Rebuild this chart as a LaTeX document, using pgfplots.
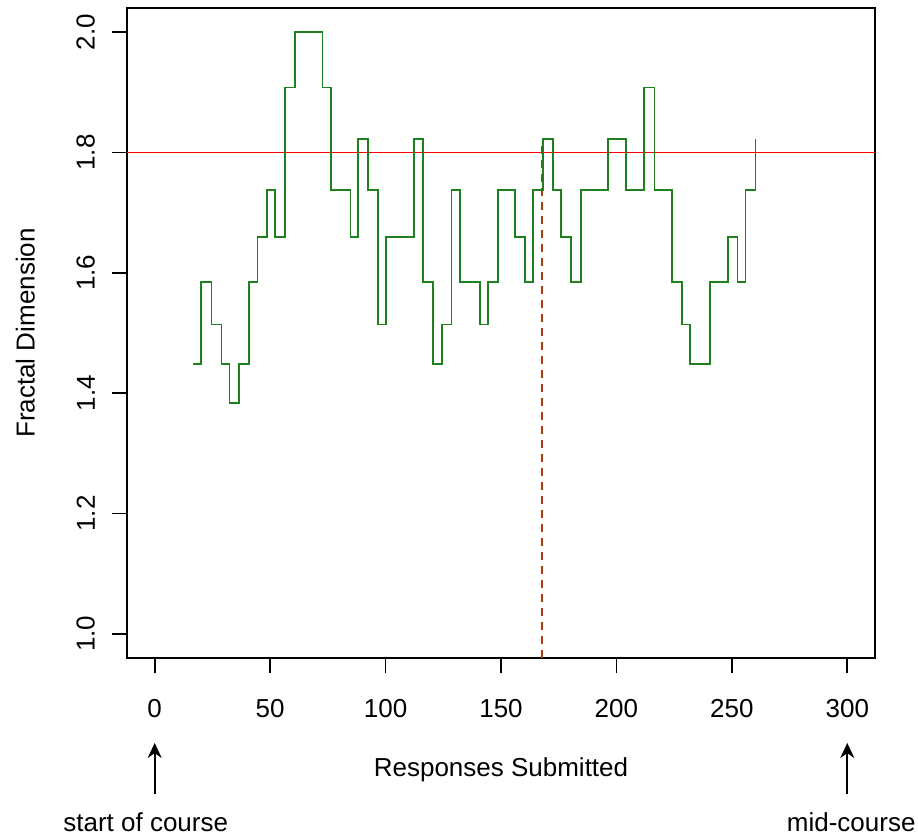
\documentclass[border=0pt]{standalone}
\usepackage{fontspec}
\setmainfont{Liberation Sans}
\usepackage{pgfplots}
\pgfplotsset{compat=1.18}
\usetikzlibrary{arrows.meta}
\definecolor{stepgreen}{RGB}{30,128,30}
\definecolor{dashbrown}{RGB}{170,60,20}
\begin{document}
\begin{tikzpicture}[font=\fontsize{13}{15}\selectfont]
\begin{axis}[
  at={(0,0)}, anchor=south west,
  scale only axis, width=374pt, height=325pt,
  xmin=-12, xmax=312, ymin=0.96, ymax=2.04,
  xtick={0,50,100,150,200,250,300},
  ytick={1,1.2,1.4,1.6,1.8,2},
  tick align=outside, tick pos=left,
  major tick length=7.5pt,
  axis line style={line width=0.8pt},
  every tick/.style={black, line width=0.8pt},
  /pgf/number format/assume math mode=true,
  yticklabel shift=5pt,
  yticklabel style={rotate=90, anchor=south,
    /pgf/number format/fixed, /pgf/number format/fixed zerofill,
    /pgf/number format/precision=1},
  xticklabel style={yshift=-9.5pt},
  clip=false,
  xlabel={Responses Submitted},
  ylabel={Fractal Dimension},
  xlabel style={at={(axis description cs:0.5,-0.142)}, anchor=north},
  ylabel style={at={(axis description cs:-0.1136,0.5)}, anchor=south},
]
\addplot[red, line width=0.8pt] coordinates {(-12,1.8) (312,1.8)};
\addplot[dashbrown, line width=0.9pt, dash pattern=on 4pt off 3pt] coordinates {(167.8,0.96) (167.8,1.82)};
\addplot[stepgreen, line width=0.9pt, const plot mark left] coordinates {
(16.6,1.449) (20.2,1.585) (24.6,1.514) (28.9,1.449) (32.4,1.384) (36.5,1.449)
(40.8,1.585) (44.5,1.66) (48.7,1.737) (52.2,1.66) (56.4,1.908) (60.7,2.0)
(72.7,1.908) (76.2,1.737) (84.8,1.66) (88.1,1.822) (92.3,1.737) (96.8,1.514)
(100.1,1.66) (112.3,1.822) (116.3,1.585) (120.4,1.449) (124.3,1.514) (128.6,1.737)
(132.2,1.585) (140.8,1.514) (144.2,1.585) (148.6,1.737) (156.2,1.66) (160.4,1.585)
(163.9,1.737) (168.2,1.822) (172.5,1.737) (176.0,1.66) (180.2,1.585) (184.6,1.737)
(196.5,1.822) (204.3,1.737) (212.1,1.908) (216.5,1.737) (224.1,1.585) (228.3,1.514)
(231.9,1.449) (240.5,1.585) (248.3,1.66) (252.4,1.585) (255.9,1.737) (260.2,1.822)
};
\draw[-{Stealth[length=7.5pt,width=7pt]}, line width=0.9pt]
  ([yshift=-68pt]axis cs:0,0.96) -- ([yshift=-42.5pt]axis cs:0,0.96);
\draw[-{Stealth[length=7.5pt,width=7pt]}, line width=0.9pt]
  ([yshift=-68pt]axis cs:300,0.96) -- ([yshift=-42.5pt]axis cs:300,0.96);
\node[anchor=base, inner sep=0pt] at ([yshift=-87pt]axis cs:-3.9,0.96) {start of course};
\node[anchor=base, inner sep=0pt] at ([yshift=-87pt]axis cs:301.7,0.96) {mid-course};
\end{axis}
\pgfresetboundingbox
\path[use as bounding box] (-63.5pt,-88.5pt) rectangle (395.5pt,329pt);
\end{tikzpicture}
\end{document}
